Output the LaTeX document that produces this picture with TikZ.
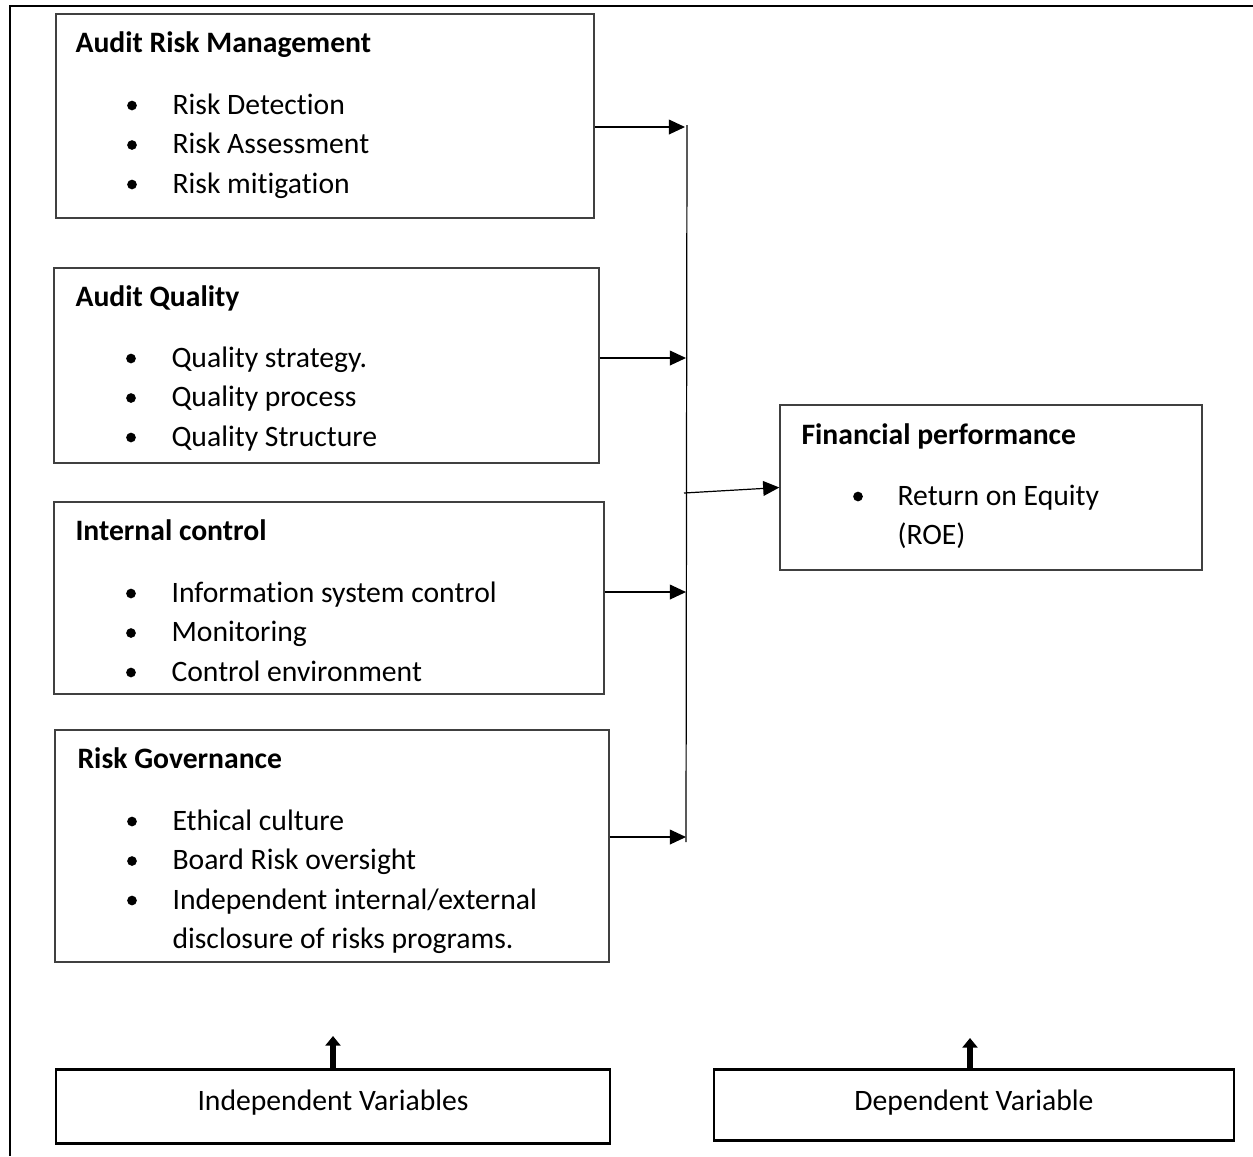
\documentclass[tikz,border=0pt]{standalone}
\usepackage{fontspec}
\setmainfont{Carlito}[Ligatures=NoCommon]
\usetikzlibrary{arrows.meta,fit}

\tikzset{
  varbox/.style={draw=black!75, line width=0.5pt, inner sep=0pt},
  namebox/.style={draw=black, line width=1.1pt, inner sep=0pt},
  head/.style={anchor=base west, inner sep=0pt, font=\fontsize{11}{14.65}\selectfont\bfseries},
  entry/.style={anchor=base west, inner sep=0pt, font=\fontsize{11}{14.65}\selectfont},
  midtext/.style={anchor=base, inner sep=0pt, font=\fontsize{11}{14.65}\selectfont},
  dot/.style={circle, fill=black, inner sep=0pt, minimum size=3.6pt},
  conn/.style={-{Triangle[length=6pt,width=5.5pt]}, line width=0.45pt},
  upconn/.style={-{Triangle[length=3.6pt,width=5.6pt]}, line width=2.2pt},
}

\begin{document}
\begin{tikzpicture}[x=0.371pt, y=-0.371pt]
    \useasboundingbox (0,0) rectangle (1253,1156);

    % outer frame (top and left only)
    \draw[line width=0.9pt] (1253,6) -- (10,6) -- (10,1156);

    % independent variable boxes
    \node[varbox, fit={(56,14) (594,218)}] (arm) {};
    \node[varbox, fit={(54,268) (599,463)}] (aq) {};
    \node[varbox, fit={(54,502) (604,694)}] (ic) {};
    \node[varbox, fit={(55,730) (609,962)}] (rg) {};

    % dependent variable box
    \node[varbox, fit={(780,405) (1202,570)}] (fp) {};

    % titles
    \node[head] (arm-t) at (75,52) {Audit Risk Management};
    \node[head] (aq-t) at (75,306) {Audit Quality};
    \node[head] (ic-t) at (75,540) {Internal control};
    \node[head] (rg-t) at (77,768) {Risk Governance};
    \node[head] (fp-t) at (801,444) {Financial performance};

    % bullet lists
    \foreach \txt [count=\i] in {Risk Detection, Risk Assessment, Risk mitigation} {
        \node[entry] (arm-\i) at (172, 74.5+39.5*\i) {\txt};
        \node[dot] (arm-b\i) at (132, 66+39.5*\i) {};
    }
    \foreach \txt [count=\i] in {Quality strategy., Quality process, Quality Structure} {
        \node[entry] (aq-\i) at (171, 327.5+39.5*\i) {\txt};
        \node[dot] (aq-b\i) at (131, 319+39.5*\i) {};
    }
    \foreach \txt [count=\i] in {Information system control, Monitoring, Control environment} {
        \node[entry] (ic-\i) at (171, 562.5+39.5*\i) {\txt};
        \node[dot] (ic-b\i) at (131, 554+39.5*\i) {};
    }
    \foreach \txt [count=\i] in {Ethical culture, Board Risk oversight, Independent internal/external} {
        \node[entry] (rg-\i) at (172, 790.5+39.5*\i) {\txt};
        \node[dot] (rg-b\i) at (132, 782+39.5*\i) {};
    }
    \node[entry] (rg-4) at (172,948.5) {disclosure of risks programs.};

    \node[entry] (fp-1) at (897,505) {Return on Equity};
    \node[dot] (fp-b1) at (858,496.5) {};
    \node[entry] (fp-2) at (897,544.5) {(ROE)};

    % collecting bar and arrows
    \coordinate (bartop) at (687,125);
    \coordinate (barbot) at (686,842);
    \draw[line width=0.45pt] (bartop) -- (barbot);

    \coordinate (j1) at (685,127);
    \coordinate (j2) at (686,358);
    \coordinate (j3) at (686,592);
    \coordinate (j4) at (686,837);
    \coordinate (j0) at (684,493);

    \draw[conn] (arm.east |- j1) -- (j1);
    \draw[conn] (aq.east |- j2) -- (j2);
    \draw[conn] (ic.east |- j3) -- (j3);
    \draw[conn] (rg.east |- j4) -- (j4);
    \draw[conn] (j0) -- (fp.west);

    % variable labels
    \node[namebox, fit={(56,1069) (610,1143)}] (iv) {};
    \node[namebox, fit={(714,1069) (1234,1140)}] (dv) {};
    \node[midtext] (iv-t) at (333,1110) {Independent Variables};
    \node[midtext] (dv-t) at (974,1110) {Dependent Variable};
    \coordinate (iv-up) at (333,1036);
    \coordinate (dv-up) at (970,1038);
    \draw[upconn] (iv.north -| iv-up) -- (iv-up);
    \draw[upconn] (dv.north -| dv-up) -- (dv-up);
\end{tikzpicture}
\end{document}
